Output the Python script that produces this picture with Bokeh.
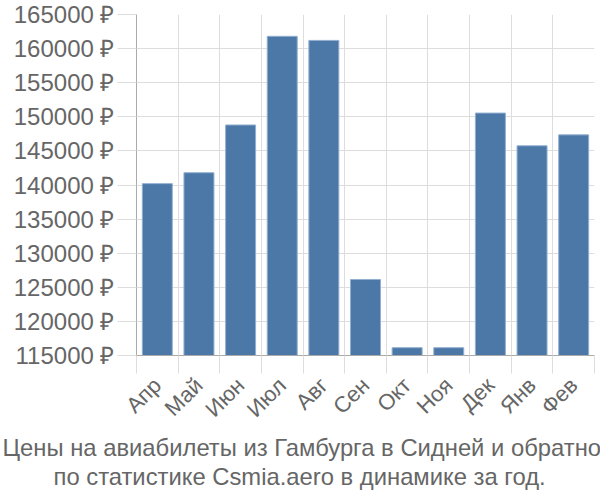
from bokeh.plotting import figure
from bokeh.models import FixedTicker, Range1d, Title, ColumnDataSource
from bokeh.embed import file_html
from bokeh.resources import INLINE

months = ["Апр", "Май", "Июн", "Июл", "Авг", "Сен", "Окт", "Ноя", "Дек", "Янв", "Фев"]
prices = [140200, 141800, 148800, 161800, 161200, 126150, 116150, 116150, 150550, 145750, 147350]
y_ticks = [115000, 120000, 125000, 130000, 135000, 140000, 145000, 150000, 155000, 160000, 165000]
y_min, y_max = 115000, 165000
title_lines = ["Цены на авиабилеты из Гамбурга в Сидней и обратно",
               "по статистике Csmia.aero в динамике за год."]
title_offsets = [-134, -83]

FONT = "Liberation Sans"
n = len(months)
centers = [i + 0.5 for i in range(n)]
src = ColumnDataSource(dict(x=centers, top=prices, bottom=[y_min] * n))

p = figure(width=600, height=500, output_backend="svg", toolbar_location=None,
           x_range=Range1d(0, n), y_range=Range1d(y_min, y_max),
           min_border_left=136, min_border_right=6, min_border_top=14, min_border_bottom=145)
p.outline_line_color = None
p.background_fill_color = "white"

p.vbar(x="x", top="top", bottom="bottom", width=0.72, source=src,
       fill_color="#4c78a8", line_color="#93afd0", line_width=1)

# x axis
xa = p.xaxis[0]
xa.ticker = FixedTicker(ticks=centers, minor_ticks=list(range(n + 1)))
xa.major_label_overrides = {c: m for c, m in zip(centers, months)}
xa.major_label_orientation = 0.785398
xa.major_tick_line_color = None
xa.major_tick_out = 0
xa.major_tick_in = 0
xa.minor_tick_out = 18
xa.minor_tick_in = 0
xa.minor_tick_line_color = "#dddddd"
xa.axis_line_color = "#aaaaaa"
xa.major_label_text_font = FONT
xa.major_label_text_font_size = "22px"
xa.major_label_text_color = "#666666"
xa.major_label_standoff = 8

# y axis
ya = p.yaxis[0]
ya.ticker = FixedTicker(ticks=y_ticks)
ya.major_label_overrides = {t: f"{t} ₽" for t in y_ticks}
ya.major_tick_out = 19
ya.major_tick_in = 0
ya.major_tick_line_color = "#dddddd"
ya.minor_tick_line_color = None
ya.axis_line_color = "#aaaaaa"
ya.major_label_text_font = FONT
ya.major_label_text_font_size = "24px"
ya.major_label_text_color = "#666666"
ya.major_label_standoff = 3

p.xgrid.ticker = FixedTicker(ticks=list(range(n + 1)))
p.xgrid.grid_line_color = "#dddddd"
p.ygrid.grid_line_color = "#dddddd"

for line, off in zip(title_lines, title_offsets):
    t = Title(text=line, align="left", text_font=FONT, text_font_size="23.8px",
              text_color="#666666", text_font_style="normal", standoff=0, offset=off,
              vertical_align="top")
    p.add_layout(t, "below")

open("out.html", "w").write(file_html(p, INLINE))
